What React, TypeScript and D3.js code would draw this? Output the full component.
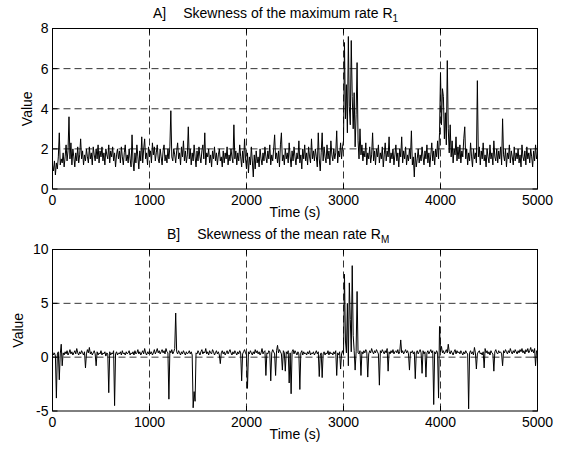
import React from 'react';
import * as d3 from 'd3';

// sampled every 10 s, one array per 1000 s block
const sampleStep = 10;

const skewMax0 = [
  1.2, 0.9, 1.4, 0.7, 1.3, 1.0, 1.6, 2.8, 1.2, 1.5,
  1.3, 1.8, 1.1, 1.6, 2.2, 1.4, 1.9, 3.6, 1.5, 2.3,
  1.2, 2.0, 1.6, 1.1, 1.8, 1.4, 2.1, 1.3, 1.7, 2.5,
  1.5, 1.9, 1.2, 1.7, 1.4, 2.0, 1.6, 1.3, 2.1, 1.5,
  1.8, 1.2, 2.1, 1.7, 1.4, 2.0, 1.5, 2.2, 1.3, 1.9,
  1.6, 2.1, 1.4, 1.8, 1.2, 2.0, 1.7, 1.5, 2.2, 1.3,
  1.9, 1.6, 2.1, 1.4, 1.8, 1.1, 1.7, 2.0, 1.5, 1.9,
  1.3, 2.1, 1.6, 1.2, 1.8, 2.2, 1.4, 1.7, 1.3, 2.0,
  1.5, 1.1, 2.7, 1.4, 0.9, 1.8, 1.3, 2.2, 1.6, 1.0,
  1.9, 1.4, 2.6, 1.3, 2.0, 2.5, 1.5, 1.8, 1.2, 2.1,
];
const skewMax1000 = [
  1.6, 1.9, 1.3, 2.3, 1.7, 2.1, 1.4, 1.8, 2.2, 1.5,
  1.3, 2.0, 1.6, 1.2, 1.9, 2.2, 1.4, 1.7, 1.3, 2.0,
  1.5, 2.1, 3.9, 1.6, 1.4, 2.0, 1.7, 1.3, 1.9, 2.3,
  1.5, 1.8, 1.2, 2.1, 1.6, 2.4, 1.4, 1.9, 1.3, 1.7,
  3.1, 1.5, 2.0, 1.2, 1.8, 1.4, 2.2, 1.6, 1.1, 1.9,
  1.4, 2.1, 1.6, 1.3, 1.9, 2.2, 1.5, 2.8, 1.2, 1.8,
  1.6, 2.0, 1.3, 1.7, 1.1, 1.9, 1.5, 2.1, 1.4, 1.8,
  1.2, 1.7, 2.0, 1.4, 1.6, 1.1, 1.9, 1.3, 1.8, 1.5,
  2.1, 1.2, 1.7, 1.4, 2.0, 1.6, 1.3, 3.2, 1.5, 1.9,
  1.2, 1.8, 1.4, 2.2, 1.6, 1.1, 1.9, 1.3, 2.5, 1.5,
];
const skewMax2000 = [
  1.0, 1.8, 0.8, 1.6, 1.2, 2.1, 1.4, 0.6, 1.7, 1.0,
  1.9, 1.3, 1.6, 1.1, 2.0, 1.5, 1.2, 1.8, 1.4, 2.1,
  1.6, 1.3, 1.9, 1.5, 2.2, 1.2, 1.7, 1.4, 2.0, 2.7,
  1.5, 1.8, 1.3, 1.9, 1.1, 2.2, 2.8, 1.4, 1.7, 1.2,
  2.0, 1.5, 1.8, 1.3, 2.3, 1.6, 1.1, 1.9, 1.4, 2.1,
  1.6, 1.2, 1.8, 1.5, 2.4, 1.3, 1.7, 1.0, 2.0, 1.5,
  2.2, 1.4, 1.8, 1.2, 2.1, 1.6, 1.3, 2.5, 1.5, 1.9,
  1.4, 2.0, 1.6, 1.1, 2.8, 1.5, 0.9, 1.8, 2.8, 1.4,
  2.1, 1.6, 1.3, 2.2, 1.5, 1.9, 1.2, 2.4, 1.7, 1.4,
  2.0, 1.5, 1.8, 2.9, 1.3, 1.9, 1.6, 2.3, 1.5, 2.1,
];
const skewMax3000 = [
  2.4, 7.3, 3.5, 5.2, 2.8, 7.6, 4.1, 3.2, 7.4, 4.6,
  3.0, 4.8, 2.1, 3.7, 6.3, 2.4, 1.5, 3.0, 1.7, 2.2,
  1.4, 1.9, 1.6, 2.3, 1.2, 1.8, 1.5, 2.1, 1.3, 1.7,
  2.8, 1.4, 1.9, 1.2, 2.0, 1.6, 2.2, 1.3, 1.8, 1.5,
  2.1, 1.1, 1.7, 2.3, 1.4, 1.9, 1.6, 2.6, 1.3, 1.8,
  1.5, 2.0, 1.2, 1.7, 2.2, 1.4, 1.8, 1.1, 2.0, 1.6,
  2.6, 1.3, 1.9, 1.5, 2.1, 1.2, 1.7, 1.4, 2.0, 1.5,
  2.9, 1.2, 1.6, 0.6, 1.8, 1.1, 1.5, 2.0, 1.3, 1.7,
  1.4, 2.1, 1.6, 1.2, 1.9, 1.5, 2.2, 1.3, 1.8, 1.1,
  1.7, 2.3, 1.4, 1.9, 1.2, 2.0, 1.6, 2.4, 1.5, 2.8,
];
const skewMax4000 = [
  5.8, 3.2, 5.0, 4.6, 2.5, 3.8, 2.2, 6.4, 3.0, 1.8,
  3.2, 1.6, 2.4, 1.3, 2.0, 1.7, 2.6, 1.4, 2.1, 1.5,
  2.2, 1.3, 1.9, 1.6, 2.5, 3.1, 1.5, 2.0, 1.2, 1.8,
  1.4, 2.3, 1.6, 1.1, 2.0, 1.5, 1.8, 1.3, 5.4, 1.6,
  2.1, 1.2, 1.9, 1.5, 2.3, 1.4, 1.7, 1.1, 2.0, 1.6,
  1.3, 2.2, 1.5, 1.8, 1.2, 2.4, 1.6, 1.4, 2.0, 1.3,
  1.9, 1.5, 2.1, 1.2, 3.5, 1.7, 1.4, 2.0, 1.1, 1.8,
  1.5, 2.2, 1.3, 1.9, 1.6, 1.2, 2.1, 1.4, 1.8, 1.5,
  2.0, 1.3, 1.7, 1.1, 2.2, 1.6, 1.4, 1.9, 1.2, 2.1,
  1.5, 1.8, 1.3, 2.0, 1.6, 1.1, 1.9, 1.4, 2.2, 1.5, 1.7,
];

const skewMean0 = [
  0.5, 0.2, 0.4, 0.1, -3.8, 0.3, 0.5, -2.1, 0.3, 1.2,
  -0.8, 0.4, 0.2, 0.5, 0.3, 0.6, 0.2, 0.4, 0.7, 0.3,
  0.5, 0.2, 0.4, 0.6, 0.3, 0.8, 0.4, 0.2, 0.5, 0.3,
  0.6, 0.4, 0.2, 0.5, -1.0, 0.3, 0.7, 0.4, 0.9, 0.3,
  0.5, 0.2, 0.4, 0.6, 0.3, -0.8, 0.5, 0.2, 0.4, 0.3,
  0.6, 0.2, 0.4, 0.3, 0.5, 0.1, 0.4, 0.3, -3.3, 0.5,
  0.2, 0.4, 0.3, 0.6, -4.5, 0.3, 0.5, 0.2, 0.4, 0.3,
  0.5, 0.2, 0.6, 0.3, 0.4, 0.2, 0.5, 0.3, 0.4, 0.6,
  0.2, 0.4, 0.3, 0.5, 0.2, 0.6, 0.3, 0.4, 0.7, 0.3,
  0.5, 0.2, 0.4, 0.6, 0.3, 0.8, 0.4, 0.2, 0.5, 0.3,
];
const skewMean1000 = [
  0.6, 0.3, 0.5, 0.2, 0.4, 0.7, 0.3, 0.5, 0.8, 0.4,
  0.6, 0.3, 0.5, 0.7, 0.4, 0.6, 0.3, 0.8, 0.5, 0.4,
  -3.9, 0.6, 0.4, 0.7, 0.3, 0.5, 0.8, 4.1, 0.5, 0.3,
  0.6, 0.4, 0.2, 0.5, 0.3, 0.6, 0.4, 0.2, 0.5, 0.3,
  0.4, 0.6, 0.3, 0.5, 0.2, -4.7, -3.2, -4.1, 0.4, 0.3,
  0.6, 0.4, 0.2, 0.5, 0.7, 0.3, 0.5, 0.4, 0.8, 0.3,
  0.5, 0.2, 0.6, 0.4, 0.3, 0.7, 0.5, 0.2, 0.4, 0.6,
  0.3, 0.5, 0.2, -0.6, 0.4, 0.6, 0.3, 0.5, 0.2, 0.4,
  0.6, 0.3, 0.5, 0.7, 0.4, 0.2, 0.5, 0.3, 0.6, 0.4,
  0.2, 0.5, 0.3, 0.6, 0.4, -2.2, 0.3, 0.5, 0.7, 0.4,
];
const skewMean2000 = [
  0.2, -2.9, 0.5, 0.3, 0.6, 0.4, 0.2, 0.5, 0.3, 0.7,
  0.4, 0.6, 0.3, 0.5, 0.2, 0.4, 0.8, 0.3, 0.5, 0.6,
  -1.7, 0.4, 0.3, 0.6, 0.5, -2.2, 0.4, 0.7, 0.5, 0.3,
  -1.7, 0.6, 1.1, 0.4, 0.7, 0.5, 0.3, -1.2, 0.6, 0.4,
  -1.3, 0.5, 0.3, 0.6, -2.4, 0.4, -3.4, 0.5, 0.7, 0.3,
  0.6, 0.4, 0.2, 0.5, 0.3, -3.0, 0.4, 0.6, 0.2, 0.5,
  0.3, 0.4, 0.2, 0.5, 0.3, 0.6, 0.2, 0.4, 0.3, 0.5,
  0.2, 0.4, 0.6, 0.3, 0.5, -1.8, 0.2, 0.4, -1.9, 0.3,
  0.5, 0.2, 0.4, 0.3, 0.6, 0.2, 0.5, 0.3, 0.4, 0.2,
  0.5, 0.3, 0.6, -1.7, 0.4, 0.2, 0.5, -1.1, 0.3, 0.6,
];
const skewMean3000 = [
  0.3, 7.7, 1.5, 0.4, 5.0, -0.8, 6.9, 3.5, 0.5, 8.5,
  2.0, 0.6, -1.2, 0.5, 6.1, 0.4, 0.3, 0.6, -1.7, 0.5,
  0.3, 0.6, 0.4, 0.7, 0.5, -1.85, 0.3, 0.6, 0.4, 0.8,
  0.5, 0.3, 0.6, 0.4, 0.7, 0.5, 0.3, -2.6, 0.6, 0.4,
  0.7, 0.5, 0.3, 0.6, 0.4, 0.8, -1.3, 0.5, 0.3, 0.6,
  0.4, 0.7, 0.3, 0.5, 0.6, 0.4, 0.7, 0.3, 0.5, 1.6,
  0.4, 0.6, 0.3, 0.5, 0.7, 0.4, 0.6, 0.3, -1.2, 0.5,
  0.4, 0.6, 0.3, 0.5, -2.0, 0.4, 0.6, 0.3, 0.5, 0.7,
  0.4, -1.5, 0.6, 0.3, 0.5, -1.85, 0.4, 0.6, 0.3, 0.5,
  0.7, 0.4, 0.6, -4.4, 0.5, 0.3, 0.6, 0.4, -3.8, 2.85,
];
const skewMean4000 = [
  0.5, 1.0, 0.4, 0.6, 0.3, 0.5, 0.7, 0.4, 1.2, 0.5,
  0.3, 0.6, 0.4, 0.2, 0.5, 0.7, 0.3, 0.6, 0.4, 0.5,
  0.3, 0.6, 0.4, 0.2, 0.5, 0.3, 0.6, 0.4, 0.3, -4.8,
  0.4, 0.6, 0.3, 0.5, 0.2, 0.9, 0.4, -1.1, 0.3, 0.5,
  0.6, 0.3, 0.4, 0.2, 0.5, -1.0, 0.8, 0.4, 0.6, 0.3,
  0.5, 0.2, 0.6, 0.4, 0.3, -1.3, 0.5, 0.7, 0.4, 0.3,
  0.6, 0.4, 0.5, 0.3, -0.8, 0.6, 0.4, 0.7, 0.5, 0.3,
  0.6, 0.4, 0.8, 0.5, 0.3, 0.6, 0.4, 0.7, 0.5, 0.3,
  0.6, 0.4, 0.7, 0.5, 0.8, 0.4, 0.6, 0.3, 0.7, 0.5,
  0.8, 0.4, 0.6, 0.9, 0.5, 0.7, 0.4, 0.8, -0.8, 0.6, 0.5,
];

const skewMax = [...skewMax0, ...skewMax1000, ...skewMax2000, ...skewMax3000, ...skewMax4000];
const skewMean = [...skewMean0, ...skewMean1000, ...skewMean2000, ...skewMean3000, ...skewMean4000];

const xTicks = [0, 1000, 2000, 3000, 4000, 5000];
const yTicksMax = [0, 2, 4, 6, 8];
const yTicksMean = [-5, 0, 5, 10];

const W = 567;
const H = 453;
const FONT = '"Liberation Sans", Arial, Helvetica, sans-serif';
const LEFT = 52.5;
const RIGHT = 537.5;

type PanelProps = {
  values: number[];
  yDomain: [number, number];
  yTicks: number[];
  top: number;
  bottom: number;
  label: string;
  titleText: string;
  sub: string;
  titleX: number;
  ylabelX: number;
};

function Panel({ values, yDomain, yTicks, top, bottom, label, titleText, sub, titleX, ylabelX }: PanelProps) {
  const x = d3.scaleLinear().domain([0, 5000]).range([LEFT, RIGHT]);
  const y = d3.scaleLinear().domain(yDomain).range([bottom, top]);
  const line = d3.line<number>()
    .x((_, i) => x(i * sampleStep))
    .y(d => y(d));
  const tick = 5;

  return (
    <g fontFamily={FONT} fontSize={14} fill="#000">
      {/* dashed grid */}
      {xTicks.slice(1, -1).map(t => (
        <line key={'gx' + t} x1={x(t)} x2={x(t)} y1={top} y2={bottom}
          stroke="#000" strokeWidth={0.8} strokeDasharray="7,4" />
      ))}
      {yTicks.slice(1, -1).map(t => (
        <line key={'gy' + t} x1={LEFT} x2={RIGHT} y1={y(t)} y2={y(t)}
          stroke="#000" strokeWidth={0.8} strokeDasharray="7,4" />
      ))}

      <path d={line(values) ?? ''} fill="none" stroke="#000" strokeWidth={1} strokeLinejoin="miter" />

      {/* ticks, inside like matlab */}
      {xTicks.map(t => (
        <g key={'tx' + t}>
          <line x1={x(t)} x2={x(t)} y1={bottom} y2={bottom - tick} stroke="#000" />
          <line x1={x(t)} x2={x(t)} y1={top} y2={top + tick} stroke="#000" />
          <text x={x(t)} y={bottom + 16} textAnchor="middle">{t}</text>
        </g>
      ))}
      {yTicks.map(t => (
        <g key={'ty' + t}>
          <line x1={LEFT} x2={LEFT + tick} y1={y(t)} y2={y(t)} stroke="#000" />
          <line x1={RIGHT} x2={RIGHT - tick} y1={y(t)} y2={y(t)} stroke="#000" />
          <text x={LEFT - 4} y={y(t)} dy="0.35em" textAnchor="end">{t}</text>
        </g>
      ))}

      <rect x={LEFT} y={top} width={RIGHT - LEFT} height={bottom - top} fill="none" stroke="#000" strokeWidth={1} />

      <text x={(LEFT + RIGHT) / 2} y={bottom + 28} textAnchor="middle">Time (s)</text>
      <text transform={`translate(${ylabelX},${(top + bottom) / 2}) rotate(-90)`} textAnchor="middle">Value</text>

      <text x={titleX} y={top - 11}>
        {label}
        <tspan dx={17}>{titleText}</tspan>
        <tspan dy={4} fontSize={10}>{sub}</tspan>
      </text>
    </g>
  );
}

export default function App() {
  return (
    <svg width={W} height={H} style={{ position: 'absolute', left: 0, top: 0, background: '#fff' }}>
      <rect width={W} height={H} fill="#fff" />
      <Panel values={skewMax} yDomain={[0, 8]} yTicks={yTicksMax} top={28.5} bottom={189}
        label="A]" titleText="Skewness of the maximum rate R" sub="1" titleX={153} ylabelX={32} />
      <Panel values={skewMean} yDomain={[-5, 10]} yTicks={yTicksMean} top={249.5} bottom={411}
        label="B]" titleText="Skewness of the mean rate R" sub="M" titleX={167} ylabelX={23} />
    </svg>
  );
}
